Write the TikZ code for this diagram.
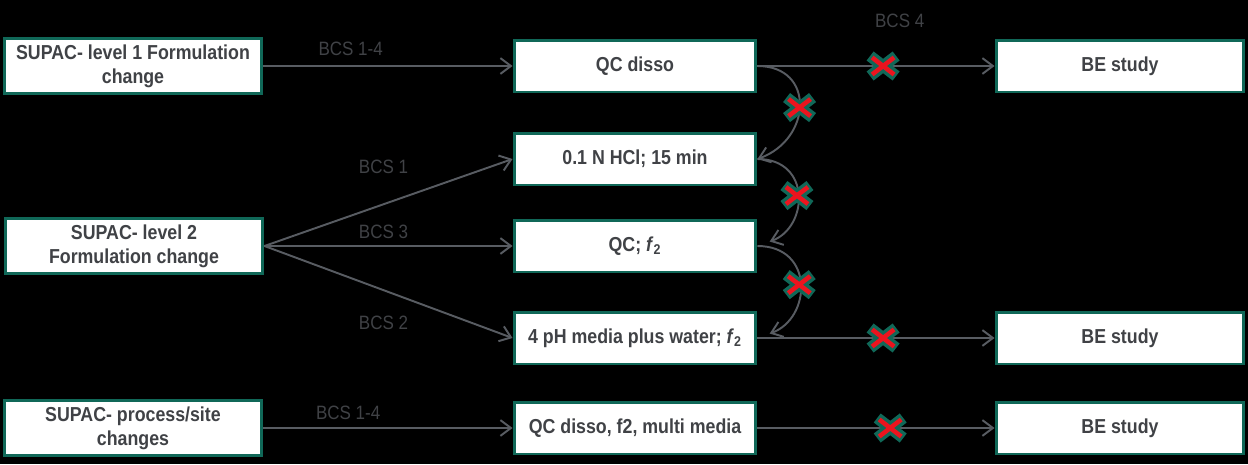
\documentclass[tikz,border=0pt]{standalone}
\usepackage{fontspec}
\setmainfont{Liberation Sans}[FakeStretch=0.88]
\usepackage{xcolor}
\usetikzlibrary{arrows.meta, positioning, calc}

\definecolor{boxteal}{RGB}{16,104,88}
\definecolor{txtgray}{RGB}{64,66,70}
\definecolor{linegray}{RGB}{88,92,98}
\definecolor{crossred}{RGB}{235,20,30}

\begin{document}
\begin{tikzpicture}[
    x=0.02cm, y=-0.02cm,
    box/.style={rectangle, draw=boxteal, line width=1.7pt, fill=white, minimum height=1.04cm, align=center, text=txtgray, font=\bfseries\fontsize{11.5}{13.6}\selectfont},
    srcw/.style={minimum width=5.16cm},
    midw/.style={minimum width=4.84cm},
    endw/.style={minimum width=4.96cm},
    lbl/.style={text=txtgray, font=\fontsize{11}{13}\selectfont},
    conn/.style={draw=linegray, line width=1.1pt, -{Straight Barb[length=6pt,width=9pt]}},
    nogo/.pic={
        \draw[boxteal, line width=6.5pt] (-13,-10) -- (13,10) (-13,10) -- (13,-10);
        \draw[crossred, line width=2.6pt] (-11,-8.5) -- (11,8.5) (-11,8.5) -- (11,-8.5);
    }
]
\fill[black] (0,0) rectangle (1248,464);

% Change types
\node[box, srcw] (lvl1) at (133,66) {SUPAC- level 1 Formulation\\change};
\node[box, srcw] (lvl2) at (134,246) {SUPAC- level 2\\Formulation change};
\node[box, srcw] (site) at (133,428) {SUPAC- process/site\\changes};

% Tests
\node[box, midw] (qc1) at (635,66) {QC disso};
\node[box, midw] (hcl) at (635,159) {0.1 N HCl; 15 min};
\node[box, midw] (qcf2) at (635,246) {QC; \textit{f}\textsubscript{2}};
\node[box, midw] (ph4) at (635,338) {4 pH media plus water; \textit{f}\textsubscript{2}};
\node[box, midw] (qcmm) at (635,428) {QC disso, f2, multi media};

% Outcomes
\node[box, endw] (be1) at (1120,66) {BE study};
\node[box, endw] (be2) at (1120,338) {BE study};
\node[box, endw] (be3) at (1120,428) {BE study};

% Connections
\draw[conn] (lvl1) -- node[lbl, pos=0.35, above=2pt] {BCS 1-4} (qc1);
\draw[conn] (lvl2.east) -- node[lbl, pos=0.48, above=0.47cm] {BCS 1} (hcl.west);
\draw[conn] (lvl2.east) -- node[lbl, pos=0.48, above=0pt] {BCS 3} (qcf2.west);
\draw[conn] (lvl2.east) -- node[lbl, pos=0.48, below=0.39cm] {BCS 2} (ph4.west);
\draw[conn] (site) -- node[lbl, pos=0.34, above=1pt] {BCS 1-4} (qcmm);

\draw[conn] (qc1) -- coordinate[pos=0.53] (x1) node[lbl, pos=0.6, above=0.64cm] {BCS 4} (be1);
\draw[conn] (qc1.east) to[out=0, in=20, looseness=1.6] coordinate[pos=0.52] (x2) (hcl.east);
\draw[conn, shorten >=0.26cm] (hcl.east) to[out=0, in=20, looseness=1.6] coordinate[pos=0.5] (x3) (qcf2.east);
\draw[conn, shorten >=0.26cm] (qcf2.east) to[out=0, in=20, looseness=1.6] coordinate[pos=0.5] (x4) (ph4.east);
\draw[conn] (ph4) -- coordinate[pos=0.53] (x5) (be2);
\draw[conn] (qcmm) -- coordinate[pos=0.56] (x6) (be3);

% Blocked routes
\foreach \c in {x1,x2,x3,x4,x5,x6}
    \pic at (\c) {nogo};

\end{tikzpicture}
\end{document}
